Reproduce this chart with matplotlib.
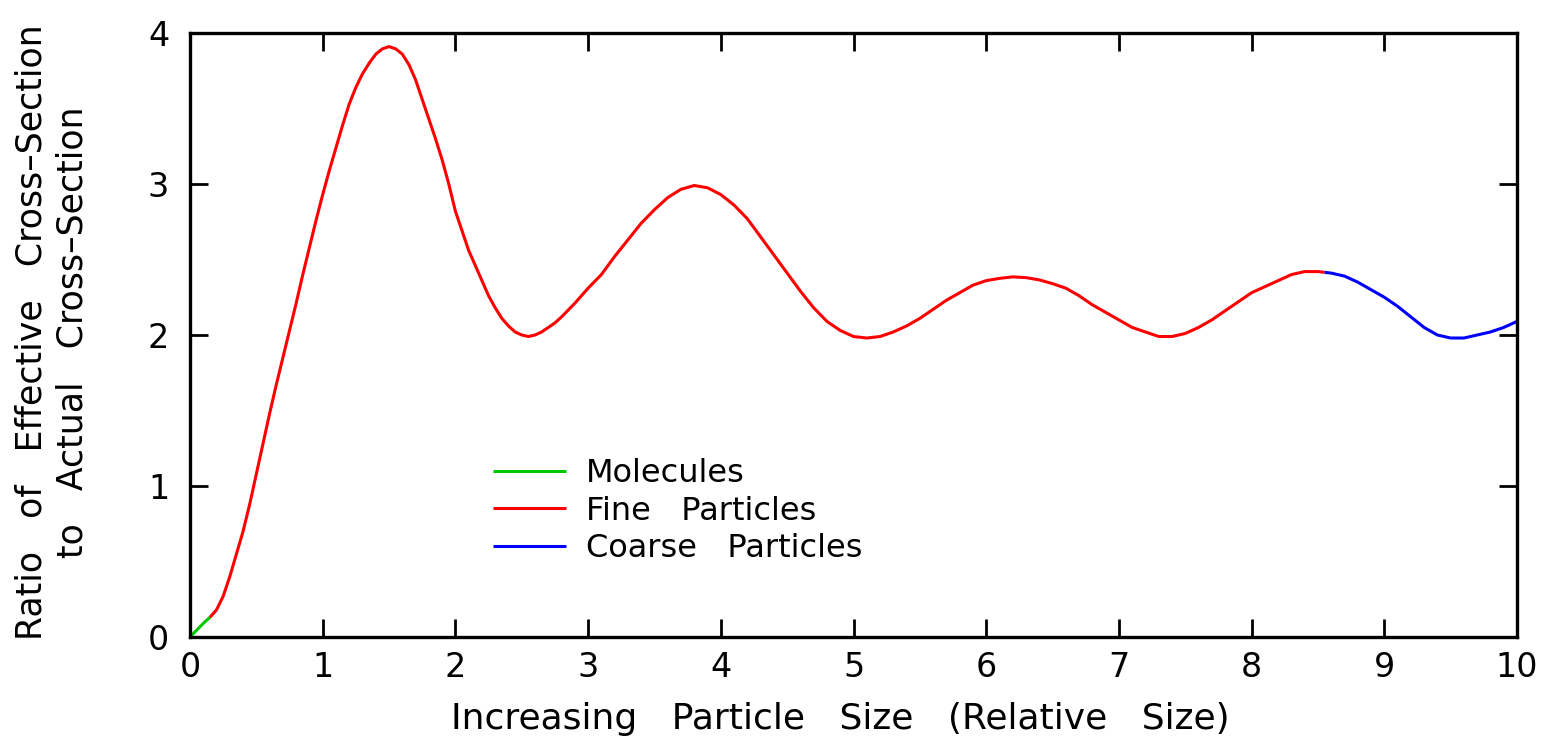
import matplotlib
matplotlib.use("Agg")
import matplotlib.pyplot as plt

mol_x = [0.00, 0.05, 0.10, 0.15]
mol_y = [0.00, 0.045, 0.09, 0.13]

fine_x = [0.15, 0.20, 0.25, 0.30, 0.35, 0.40, 0.45, 0.50, 0.55, 0.60, 0.65, 0.70,
          0.75, 0.80, 0.85, 0.90, 0.95, 1.00, 1.05, 1.10, 1.15, 1.20, 1.25, 1.30,
          1.35, 1.40, 1.45, 1.50, 1.55, 1.60, 1.65, 1.70, 1.75, 1.80, 1.85, 1.90,
          1.95, 2.00, 2.05, 2.10, 2.15, 2.20, 2.25, 2.30, 2.35, 2.40, 2.45, 2.50,
          2.55, 2.60, 2.65, 2.70, 2.75, 2.80, 2.90, 3.00, 3.10, 3.20, 3.30, 3.40,
          3.50, 3.60, 3.70, 3.80, 3.90, 4.00, 4.10, 4.20, 4.30, 4.40, 4.50, 4.60,
          4.70, 4.80, 4.90, 5.00, 5.10, 5.20, 5.30, 5.40, 5.50, 5.60, 5.70, 5.80,
          5.90, 6.00, 6.10, 6.20, 6.30, 6.40, 6.50, 6.60, 6.70, 6.80, 6.90, 7.00,
          7.10, 7.20, 7.30, 7.40, 7.50, 7.60, 7.70, 7.80, 7.90, 8.00, 8.10, 8.20,
          8.30, 8.40, 8.50, 8.55]
fine_y = [0.13, 0.18, 0.27, 0.40, 0.55, 0.70, 0.88, 1.08, 1.28, 1.48, 1.67, 1.85,
          2.03, 2.21, 2.40, 2.58, 2.76, 2.93, 3.09, 3.24, 3.39, 3.53, 3.64, 3.73,
          3.80, 3.86, 3.895, 3.91, 3.895, 3.86, 3.79, 3.69, 3.56, 3.43, 3.30, 3.16,
          3.00, 2.82, 2.69, 2.56, 2.46, 2.36, 2.26, 2.18, 2.11, 2.06, 2.02, 2.00,
          1.99, 2.00, 2.02, 2.05, 2.08, 2.12, 2.21, 2.31, 2.40, 2.52, 2.63, 2.74,
          2.83, 2.91, 2.965, 2.99, 2.975, 2.93, 2.86, 2.77, 2.65, 2.53, 2.41, 2.29,
          2.18, 2.09, 2.03, 1.99, 1.98, 1.99, 2.02, 2.06, 2.11, 2.17, 2.23, 2.28,
          2.33, 2.36, 2.375, 2.385, 2.38, 2.365, 2.34, 2.31, 2.26, 2.20, 2.15, 2.10,
          2.05, 2.02, 1.99, 1.99, 2.01, 2.05, 2.10, 2.16, 2.22, 2.28, 2.32, 2.36,
          2.40, 2.42, 2.42, 2.415]

coarse_x = [8.55, 8.60, 8.70, 8.80, 8.90, 9.00, 9.10, 9.20, 9.30, 9.40, 9.50, 9.60,
            9.70, 9.80, 9.90, 10.0]
coarse_y = [2.415, 2.41, 2.39, 2.35, 2.30, 2.25, 2.19, 2.12, 2.05, 2.00, 1.98, 1.98,
            2.00, 2.02, 2.05, 2.09]

x_ticks = [0, 1, 2, 3, 4, 5, 6, 7, 8, 9, 10]
y_ticks = [0, 1, 2, 3, 4]

labels = ["Molecules", "Fine   Particles", "Coarse   Particles"]
colors = ["#00c800", "#ff0000", "#0000ff"]

plt.rcParams['font.family'] = ['DejaVu Sans']

fig = plt.figure(figsize=(15.54, 7.51), dpi=100)
ax = fig.add_axes([190/1554, 1 - 637/751, (1517 - 190)/1554, (637 - 33)/751])

for xs, ys, lab, c in zip([mol_x, fine_x, coarse_x], [mol_y, fine_y, coarse_y], labels, colors):
    ax.plot(xs, ys, color=c, lw=2.2, label=lab, solid_joinstyle='round',
            solid_capstyle='butt')

ax.set_xlim(0, 10)
ax.set_ylim(0, 4)
ax.set_xticks(x_ticks)
ax.set_yticks(y_ticks)
for s in ax.spines.values():
    s.set_linewidth(2.4)
ax.tick_params(direction='in', length=13, width=2.0, top=True, right=True,
               labelsize=24)
ax.tick_params(axis='x', pad=10)
ax.tick_params(axis='y', pad=15)

ax.set_xlabel("Increasing   Particle   Size   (Relative   Size)", fontsize=26)
ax.xaxis.set_label_coords(0.49, -0.108)
ax.set_ylabel("Ratio   of   Effective   Cross\u2013Section\nto   Actual   Cross\u2013Section",
              fontsize=25, multialignment='center', linespacing=1.25)
ax.yaxis.set_label_coords(-0.0758, 0.505)

ax.legend(loc='upper left', bbox_to_anchor=(0.2283, 0.296), frameon=False, borderpad=0,
          borderaxespad=0, fontsize=23, handlelength=2.3, handletextpad=0.62,
          labelspacing=0.2)

fig.savefig("out.png", dpi=100)
